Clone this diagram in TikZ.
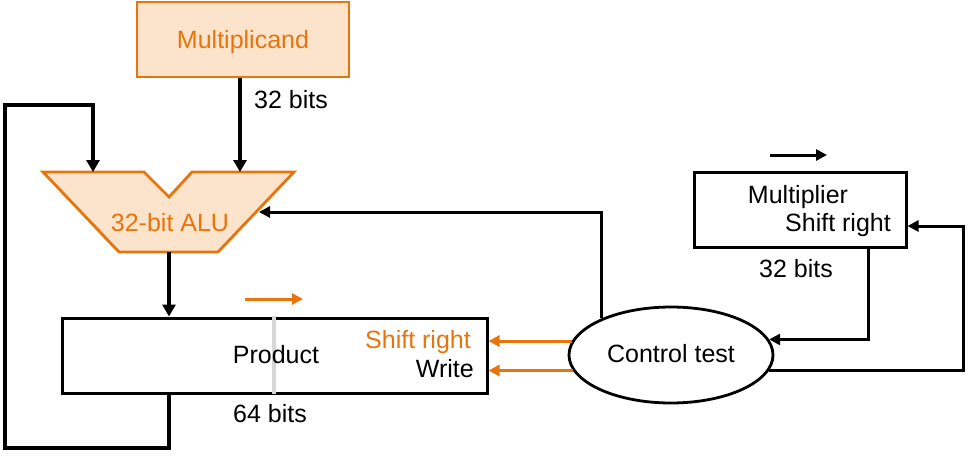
\documentclass[tikz,border=0pt]{standalone}
\usepackage{fontspec}
\setmainfont{Liberation Sans}
\usetikzlibrary{shapes.geometric,arrows.meta}
\definecolor{orng}{HTML}{E8740C}
\definecolor{orfill}{HTML}{FCE4CC}
\definecolor{gry}{HTML}{D6D6D6}
\begin{document}
\begin{tikzpicture}[x=1pt,y=-1pt,
  lbl/.style={inner sep=0pt,font=\fontsize{25}{30}\selectfont},
  box/.style={draw=black,line width=3pt,inner sep=0pt},
  wire/.style={draw=black,line width=3pt,-{Triangle[length=11pt,width=11pt]}},
  thickwire/.style={draw=black,line width=4pt,-{Triangle[length=12pt,width=13pt]}},
  owire/.style={draw=orng,line width=3pt,-{Triangle[length=11pt,width=11pt]}}]
\useasboundingbox (0,0) rectangle (970,460);
% multiplicand
\node[box,draw=orng,fill=orfill,line width=2.8pt,minimum width=212pt,minimum height=75pt] (mcand) at (243,39.5) {};
\node[lbl,anchor=base,text=orng] (mcandt) at (243,49) {Multiplicand};
% ALU
\draw[draw=orng,fill=orfill,line width=2.8pt,line join=miter] (43,172) -- (144,172) -- (169,197) -- (192,172) -- (294,172) -- (218,252) -- (119,252) -- cycle;
\node[lbl,anchor=base,text=orng] (alu) at (170,231) {32-bit ALU};
\coordinate (aluInA) at (93,172);
\coordinate (aluInB) at (240,172);
\coordinate (aluOut) at (169,252);
\coordinate (aluCtl) at (259,212);
% product
\node[box,minimum width=425pt,minimum height=75pt] (prod) at (274.5,355.5) {};
\draw[gry,line width=3.5pt] (274,316) -- (274,394);
\node[lbl,anchor=base] (prodt) at (276,363) {Product};
\node[lbl,anchor=base east,text=orng] (psr) at (471,348) {Shift right};
\node[lbl,anchor=base east] (pwr) at (474,377) {Write};
\node[lbl,anchor=base] (p64) at (270,422) {64 bits};
\coordinate (poA) at (245,299);
\coordinate (poB) at (303,299);
\draw[owire] (poA) -- (poB);
% control
\node[draw=black,line width=2.8pt,ellipse,minimum width=204pt,minimum height=96pt,inner sep=0pt] (ctl) at (671,355) {};
\node[lbl,anchor=base] (ctlt) at (671,362) {Control test};
% multiplier
\node[box,minimum width=212pt,minimum height=75pt] (mplier) at (800,210) {};
\node[lbl,anchor=base] (mpt) at (798,203) {Multiplier};
\node[lbl,anchor=base east] (msr) at (891,231) {Shift right};
\node[lbl,anchor=base] (m32) at (796,277) {32 bits};
\coordinate (maA) at (770,155);
\coordinate (maB) at (827,155);
\draw[wire] (maA) -- (maB);
\node[lbl,anchor=base west] (c32) at (254,109) {32 bits};
% connectors
\draw[thickwire] (aluInB |- mcand.south) -- (aluInB);
\coordinate (lpA) at (5,448);
\coordinate (lpB) at (5,105);
\draw[thickwire] (aluOut |- prod.south) |- (lpA) |- (lpB) -| (aluInA);
\draw[thickwire] (aluOut) -- (aluOut |- prod.north);
\draw[wire] (ctl.152) |- (aluCtl);
\draw[owire] (ctl.172) -- (ctl.172 -| prod.east);
\draw[owire] (ctl.189) -- (ctl.189 -| prod.east);
\coordinate (mplBot) at (868,248);
\draw[wire] (mplBot) |- (ctl.9);
\coordinate (rcorner) at (963,226);
\draw[wire] (ctl.351) -| (rcorner) -- (rcorner -| mplier.east);
\end{tikzpicture}
\end{document}
